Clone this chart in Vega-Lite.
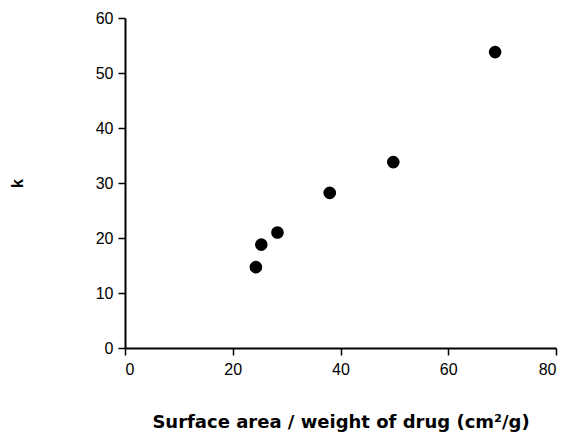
{
  "$schema": "https://vega.github.io/schema/vega-lite/v6.json",
  "autosize": "none",
  "width": 431,
  "height": 330,
  "padding": {"left": 125, "top": 18, "right": 10, "bottom": 87},
  "background": "white",
  "config": {
    "view": {"stroke": null},
    "font": "Liberation Sans",
    "axis": {
      "grid": false,
      "domainColor": "black",
      "domainWidth": 2,
      "tickColor": "black",
      "tickWidth": 1.5,
      "tickSize": 7,
      "labelColor": "black",
      "labelFont": "Liberation Sans",
      "labelFontSize": 16,
      "labelPadding": 5,
      "titleColor": "black",
      "titleFontWeight": "bold"
    }
  },
  "data": {
    "values": [
      {"sa": 24.3, "k": 14.7},
      {"sa": 25.3, "k": 18.8},
      {"sa": 28.3, "k": 21.0},
      {"sa": 38.0, "k": 28.2},
      {"sa": 49.8, "k": 33.8},
      {"sa": 68.7, "k": 53.8}
    ]
  },
  "mark": {"type": "circle", "size": 160, "color": "black", "opacity": 1},
  "encoding": {
    "x": {
      "field": "sa",
      "type": "quantitative",
      "scale": {"domain": [0, 80], "nice": false, "zero": true},
      "axis": {
        "values": [0, 20, 40, 60, 80],
        "labelPadding": 6,
        "title": "Surface area / weight of drug (cm²/g)",
        "titleFont": "DejaVu Sans",
        "titleFontSize": 18,
        "titlePadding": 36
      }
    },
    "y": {
      "field": "k",
      "type": "quantitative",
      "scale": {"domain": [0, 60], "nice": false},
      "axis": {
        "values": [0, 10, 20, 30, 40, 50, 60],
        "title": "k",
        "titleFont": "Liberation Sans",
        "titleFontSize": 16,
        "titlePadding": 70
      }
    }
  }
}
